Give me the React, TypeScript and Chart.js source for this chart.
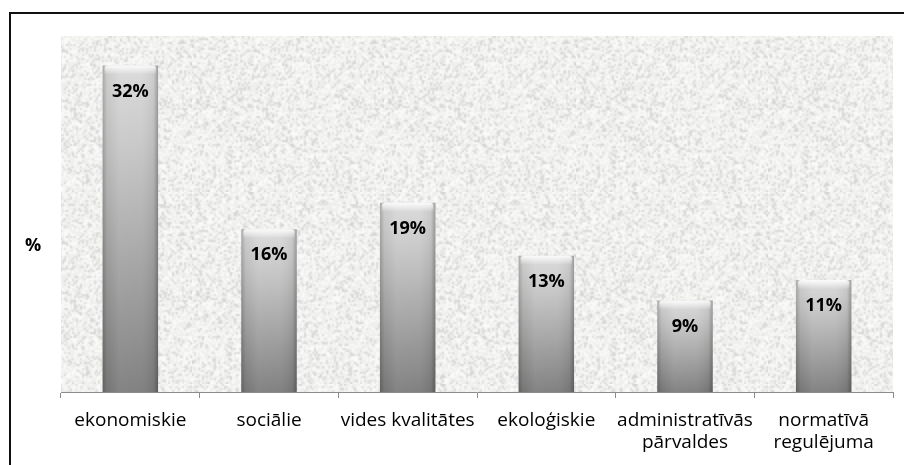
import React, { useEffect, useRef } from "react";
import { Chart, registerables } from "chart.js";

Chart.register(...registerables);

const categories: (string | string[])[] = [
  "ekonomiskie",
  "sociālie",
  "vides kvalitātes",
  "ekoloģiskie",
  ["administratīvās", "pārvaldes"],
  ["normatīvā", "regulējuma"],
];
const values: number[] = [32.1, 16, 18.6, 13.4, 9, 11];
const yTitle = "%";

function hash(i: number, j: number): number {
  let h = (i * 374761393 + j * 668265263) | 0;
  h = ((h ^ (h >>> 13)) * 1274126177) | 0;
  h = h ^ (h >>> 16);
  return ((h >>> 0) % 10000) / 10000;
}

function makeTexture(): HTMLCanvasElement {
  const small = document.createElement("canvas");
  small.width = 96;
  small.height = 96;
  const sctx = small.getContext("2d")!;
  const img = sctx.createImageData(96, 96);
  for (let y = 0; y < 96; y++) {
    for (let x = 0; x < 96; x++) {
      const r = hash(x, y);
      let v = 239;
      if (r > 0.8) v = 210 + Math.floor(hash(y, x) * 16);
      else if (r < 0.35) v = 250;
      const k = (y * 96 + x) * 4;
      img.data[k] = v;
      img.data[k + 1] = v;
      img.data[k + 2] = v - 1;
      img.data[k + 3] = 255;
    }
  }
  sctx.putImageData(img, 0, 0);
  const big = document.createElement("canvas");
  big.width = 192;
  big.height = 192;
  const bctx = big.getContext("2d")!;
  bctx.imageSmoothingEnabled = true;
  bctx.drawImage(small, 0, 0, 192, 192);
  return big;
}

export default function App() {
  const ref = useRef<HTMLCanvasElement | null>(null);

  useEffect(() => {
    const canvas = ref.current!;
    const texture = makeTexture();

    const framePlugin = {
      id: "frame",
      beforeDraw(chart: any) {
        const { ctx, chartArea } = chart;
        ctx.save();
        ctx.fillStyle = "#ffffff";
        ctx.fillRect(0, 0, chart.width, chart.height);
        const pat = ctx.createPattern(texture, "repeat");
        ctx.fillStyle = pat;
        ctx.fillRect(chartArea.left, chartArea.top, chartArea.right - chartArea.left, chartArea.bottom - chartArea.top);
        ctx.strokeStyle = "#111";
        ctx.lineWidth = 2;
        ctx.beginPath();
        ctx.moveTo(10, chart.height + 5);
        ctx.lineTo(10, 13);
        ctx.lineTo(chart.width + 5, 13);
        ctx.stroke();
        // y title
        ctx.fillStyle = "#000";
        ctx.font = "bold 18px 'Open Sans'";
        ctx.textAlign = "center";
        ctx.textBaseline = "middle";
        ctx.fillText(yTitle, chartArea.left - 28, chartArea.top + (chartArea.bottom - chartArea.top) * 0.59);
        ctx.restore();
      },
      afterDatasetsDraw(chart: any) {
        const { ctx } = chart;
        const meta = chart.getDatasetMeta(0);
        ctx.save();
        meta.data.forEach((el: any, i: number) => {
          const w = el.width;
          const left = el.x - w / 2;
          const top = el.y;
          const base = el.base;
          // horizontal shading
          const hg = ctx.createLinearGradient(left, 0, left + w, 0);
          hg.addColorStop(0, "rgba(0,0,0,0.22)");
          hg.addColorStop(0.08, "rgba(0,0,0,0.05)");
          hg.addColorStop(0.3, "rgba(255,255,255,0.06)");
          hg.addColorStop(0.7, "rgba(255,255,255,0.04)");
          hg.addColorStop(0.92, "rgba(0,0,0,0.06)");
          hg.addColorStop(1, "rgba(0,0,0,0.28)");
          ctx.fillStyle = hg;
          ctx.fillRect(left, top, w, base - top);
          // top bevel highlight
          const vg = ctx.createLinearGradient(0, top, 0, top + 9);
          vg.addColorStop(0, "rgba(255,255,255,0.9)");
          vg.addColorStop(1, "rgba(255,255,255,0)");
          ctx.fillStyle = vg;
          ctx.beginPath();
          ctx.moveTo(left + 2, top + 9);
          ctx.lineTo(left + 2, top + 3);
          ctx.quadraticCurveTo(left + 2, top, left + 6, top);
          ctx.lineTo(left + w - 6, top);
          ctx.quadraticCurveTo(left + w - 2, top, left + w - 2, top + 3);
          ctx.lineTo(left + w - 2, top + 9);
          ctx.closePath();
          ctx.fill();
          // label
          ctx.fillStyle = "#000";
          ctx.font = "bold 18px 'Open Sans'";
          ctx.textAlign = "center";
          ctx.textBaseline = "middle";
          ctx.fillText(Math.round(values[i]) + "%", el.x, top + 26);
        });
        ctx.restore();
      },
    };

    const chart = new Chart(canvas, {
      type: "bar",
      data: {
        labels: categories,
        datasets: [
          {
            data: values,
            barPercentage: 0.4,
            categoryPercentage: 1,
            borderWidth: 0,
            backgroundColor: (c: any) => {
              const chart = c.chart;
              if (!chart.chartArea || c.type !== "data") return "#aaaaaa";
              const ys = chart.scales.y;
              const top = ys.getPixelForValue(c.raw);
              const base = ys.getPixelForValue(0);
              const g = chart.ctx.createLinearGradient(0, top, 0, base);
              g.addColorStop(0, "#dadada");
              g.addColorStop(0.25, "#c6c6c6");
              g.addColorStop(1, "#7c7c7c");
              return g;
            },
          },
        ],
      },
      options: {
        responsive: false,
        animation: false,
        devicePixelRatio: 1,
        layout: { padding: { left: 61, right: 11, top: 36, bottom: 0 } },
        plugins: {
          legend: { display: false },
          tooltip: { enabled: false },
          title: { display: false },
        },
        scales: {
          x: {
            offset: true,
            grid: {
              offset: true,
              drawOnChartArea: false,
              drawTicks: true,
              tickLength: 6,
              color: "#8c8c8c",
            },
            border: { display: true, color: "#8c8c8c", width: 1 },
            ticks: {
              color: "#000",
              padding: 12,
              maxRotation: 0,
              autoSkip: false,
              font: { family: "'Open Sans'", size: 19, lineHeight: 1.16 },
            },
            afterFit(scale: any) {
              scale.height = 73;
            },
          },
          y: {
            display: false,
            min: 0,
            max: 35,
          },
        },
      },
      plugins: [framePlugin],
    });

    return () => chart.destroy();
  }, []);

  return (
    <div style={{ position: "fixed", left: 0, top: 0, width: 904, height: 465, background: "#fff" }}>
      <canvas ref={ref} width={904} height={465} style={{ display: "block" }} />
    </div>
  );
}
